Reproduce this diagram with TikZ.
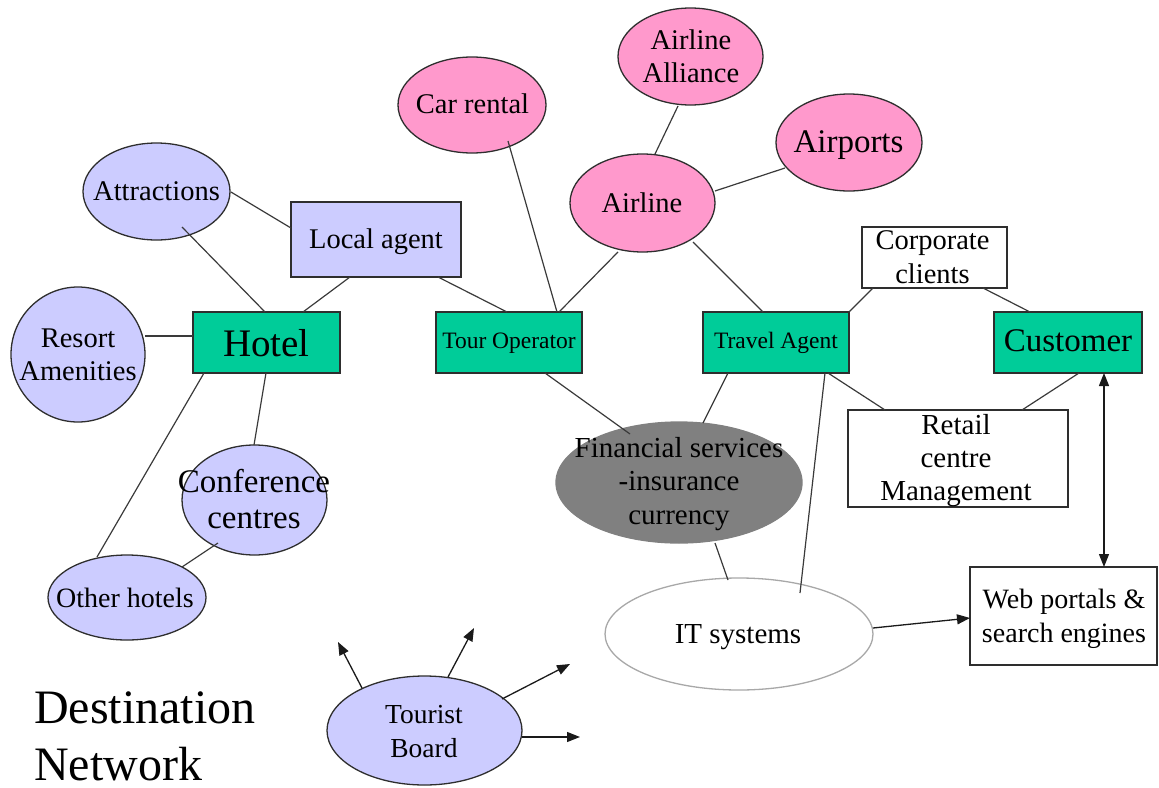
\documentclass[tikz,border=0pt]{standalone}
\usepackage{fontspec}
\setmainfont{Liberation Serif}
\usetikzlibrary{shapes.geometric,arrows.meta}

\definecolor{lavender}{HTML}{CCCCFF}
\definecolor{pinkfill}{HTML}{FF99CC}
\definecolor{greenbox}{HTML}{00CC99}
\definecolor{fingray}{HTML}{808080}
\definecolor{edgec}{HTML}{2E2E2E}
\definecolor{linkc}{HTML}{3A3A3A}
\definecolor{arrowc}{HTML}{1A1A1A}
\definecolor{itedge}{HTML}{A8A8A8}

\newcommand\fsz[2]{\fontsize{#1}{#2}\selectfont}

\begin{document}
\begin{tikzpicture}[x=1pt,y=-1pt,
  oval/.style={ellipse, draw=edgec, line width=1.3pt, inner sep=0pt},
  blueoval/.style={oval, fill=lavender},
  pinkoval/.style={oval, fill=pinkfill},
  box/.style={rectangle, draw=edgec, line width=1.3pt, inner sep=0pt},
  greenrect/.style={box, fill=greenbox},
  bluerect/.style={box, fill=lavender},
  whiterect/.style={box, fill=white},
  % labels are placed by the baseline of their last line
  lbl/.style={inner sep=0pt, align=center, anchor=base, text=black, font=\fsz{28.5}{33}},
  link/.style={draw=linkc, line width=1.2pt},
  arr/.style={draw=arrowc, line width=1.3pt, -{Triangle[length=13pt,width=10pt]}},
  darr/.style={draw=arrowc, line width=1.3pt, {Triangle[length=13pt,width=10pt]}-{Triangle[length=13pt,width=10pt]}}
]
\useasboundingbox (0,0) rectangle (1159,787);

% ---- hotel cluster ----
\node[blueoval, minimum width=147pt, minimum height=97pt] (att) at (156.5,191.5) {};
\node[lbl] (att-t) at (156.5,200) {Attractions};
\node[bluerect, minimum width=170pt, minimum height=75pt, font=\fsz{28.5}{33},
      text height=24pt, text depth=7pt] (local) at (376,239.5) {Local agent};
\node[greenrect, minimum width=147pt, minimum height=61pt, font=\fsz{39}{44},
      text height=36pt, text depth=7.5pt] (hotel) at (266.5,342.5) {Hotel};
\node[blueoval, minimum width=134pt, minimum height=135pt] (resort) at (78,354.5) {};
\node[lbl] (resort-t) at (78,380) {Resort\\Amenities};
\node[blueoval, minimum width=145pt, minimum height=110pt] (conf) at (254.5,500) {};
\node[lbl, font=\fsz{33}{36}] (conf-t) at (254,528) {Conference\\centres};
\node[blueoval, minimum width=158pt, minimum height=85pt] (other) at (127,597.5) {};
\node[lbl, font=\fsz{28}{33}] (other-t) at (125,607) {Other hotels};

% ---- transport ----
\node[pinkoval, minimum width=148pt, minimum height=96pt] (car) at (472,105) {};
\node[lbl] (car-t) at (472.5,113) {Car rental};
\node[pinkoval, minimum width=145pt, minimum height=97pt] (alliance) at (690.5,56.5) {};
\node[lbl] (alliance-t) at (691,82) {Airline\\Alliance};
\node[pinkoval, minimum width=145pt, minimum height=98pt] (airline) at (642.5,203) {};
\node[lbl] (airline-t) at (642,212) {Airline};
\node[pinkoval, minimum width=146pt, minimum height=97pt] (airports) at (849,142.5) {};
\node[lbl, font=\fsz{33}{36}] (airports-t) at (848.5,152) {Airports};

% ---- intermediaries and customers ----
\node[greenrect, minimum width=146pt, minimum height=61pt, font=\fsz{23.5}{28},
      text height=20pt, text depth=8pt] (tour) at (509,342.5) {Tour Operator};
\node[greenrect, minimum width=146pt, minimum height=61pt, font=\fsz{23.5}{28},
      text height=20pt, text depth=8pt] (travel) at (776,342.5) {Travel Agent};
\node[whiterect, minimum width=145pt, minimum height=61pt] (corp) at (934.5,257.5) {};
\node[lbl, font=\fsz{28.5}{34}] (corp-t) at (932.5,283) {Corporate\\clients};
\node[greenrect, minimum width=148pt, minimum height=61pt, font=\fsz{33}{36},
      text height=26pt, text depth=7.6pt] (customer) at (1068,342.5) {Customer};
\node[whiterect, minimum width=220pt, minimum height=97pt] (retail) at (958,458.5) {};
\node[lbl, font=\fsz{29}{33}] (retail-t) at (956,500) {Retail\\centre\\Management};
\node[oval, fill=fingray, draw=fingray, minimum width=246pt, minimum height=121pt] (fin) at (679,482.5) {};
\node[lbl, font=\fsz{29}{33.5}] (fin-t) at (679,524) {Financial services\\-insurance\\currency};
\node[oval, fill=white, draw=itedge, minimum width=268pt, minimum height=112pt] (it) at (739,634) {};
\node[lbl, font=\fsz{29}{33}] (it-t) at (738,643) {IT systems};
\node[whiterect, minimum width=187pt, minimum height=98pt] (web) at (1063.5,616) {};
\node[lbl, font=\fsz{28}{34}] (web-t) at (1064,642) {Web portals \&\\search engines};

% ---- tourist board ----
\node[blueoval, minimum width=195pt, minimum height=109pt] (board) at (424.5,730.5) {};
\node[lbl, font=\fsz{27.5}{34}] (board-t) at (424,757) {Tourist\\Board};
\node[inner sep=0pt, align=left, anchor=base west, font=\fsz{48}{57}] (title) at (34,780) {Destination\\Network};

% free ends of the tourist board arrows
\coordinate (tb1) at (338,642);
\coordinate (tb2) at (474,628);
\coordinate (tb3) at (570,664);
\coordinate (tb4) at (580,737);

% ---- connectors ----
\draw[link] ([shift={(74.5,0.5)}]att.center) -- ([shift={(-85,-11.5)}]local.center);
\draw[link] ([shift={(25.5,35.5)}]att.center) -- ([shift={(-1.5,-30.5)}]hotel.center);
\draw[link] ([shift={(-26,37.5)}]local.center) -- ([shift={(36.5,-30.5)}]hotel.center);
\draw[link] ([shift={(62,37.5)}]local.center) -- ([shift={(-2,-30.5)}]tour.center);
\draw[link] ([shift={(67,-18.5)}]resort.center) -- ([shift={(-73.5,-6.5)}]hotel.center);
\draw[link] ([shift={(-0.5,30.5)}]hotel.center) -- ([shift={(-0.5,-55)}]conf.center);
\draw[link] ([shift={(-62.5,30.5)}]hotel.center) -- ([shift={(-30,-40.5)}]other.center);
\draw[link] ([shift={(-36.5,43)}]conf.center) -- ([shift={(55,-30.5)}]other.center);
\draw[link] ([shift={(36,36)}]car.center) -- ([shift={(48,-30.5)}]tour.center);
\draw[link] ([shift={(-24.5,49)}]airline.center) -- ([shift={(50,-30.5)}]tour.center);
\draw[link] ([shift={(12.5,-49)}]airline.center) -- ([shift={(-12.5,49.5)}]alliance.center);
\draw[link] ([shift={(72.5,-12)}]airline.center) -- ([shift={(-64,25.5)}]airports.center);
\draw[link] ([shift={(50.5,39)}]airline.center) -- ([shift={(-13,-30.5)}]travel.center);
\draw[link] ([shift={(73,-30.5)}]travel.center) -- ([shift={(-61.5,30.5)}]corp.center);
\draw[link] ([shift={(48.5,30.5)}]corp.center) -- ([shift={(-38,-30.5)}]customer.center);
\draw[link] ([shift={(36,30.5)}]tour.center) -- ([shift={(-49,-48.5)}]fin.center);
\draw[link] ([shift={(-48,30.5)}]travel.center) -- ([shift={(24,-59.5)}]fin.center);
\draw[link] ([shift={(49,30.5)}]travel.center) -- ([shift={(61,-41)}]it.center);
\draw[link] ([shift={(52,30.5)}]travel.center) -- ([shift={(-73,-48.5)}]retail.center);
\draw[link] ([shift={(11,30.5)}]customer.center) -- ([shift={(64,-48.5)}]retail.center);
\draw[link] ([shift={(36,60.5)}]fin.center) -- ([shift={(-11,-54)}]it.center);
\draw[arr] ([shift={(134,-6)}]it.center) -- ([shift={(-93.5,2)}]web.center);
\draw[darr] ([shift={(36,30.5)}]customer.center) -- ([shift={(40.5,-49)}]web.center);
\draw[arr] ([shift={(-62.5,-42.5)}]board.center) -- (tb1);
\draw[arr] ([shift={(23.5,-53.5)}]board.center) -- (tb2);
\draw[arr] ([shift={(77.5,-31.5)}]board.center) -- (tb3);
\draw[arr] ([shift={(97.5,6.5)}]board.center) -- (tb4);
\end{tikzpicture}
\end{document}
